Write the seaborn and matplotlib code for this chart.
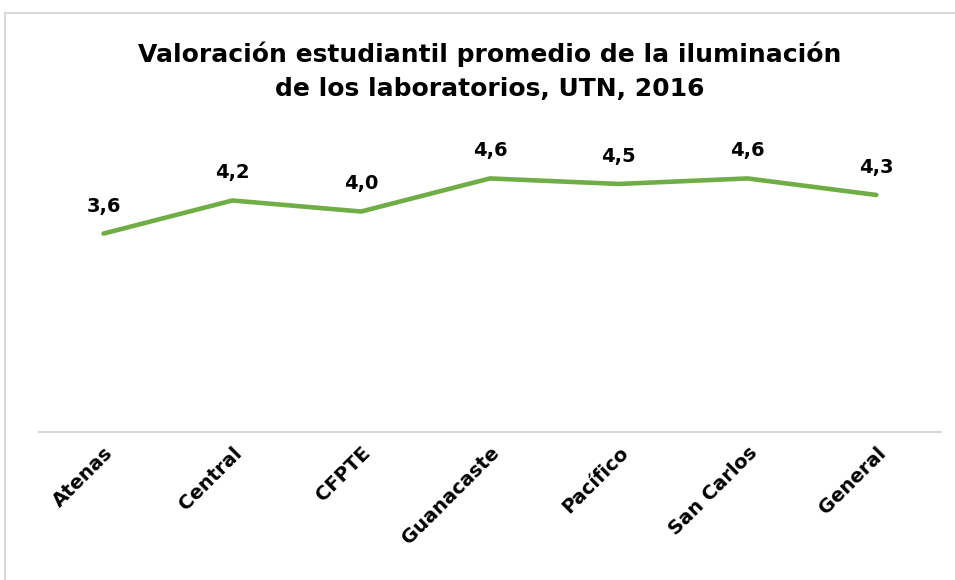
import pandas as pd
import matplotlib.pyplot as plt
import seaborn as sns

sedes = ['Atenas', 'Central', 'CFPTE', 'Guanacaste', 'Pacífico', 'San Carlos', 'General']
promedio = [3.6, 4.2, 4.0, 4.6, 4.5, 4.6, 4.3]

df = pd.DataFrame({'sede': sedes, 'promedio': promedio})

sns.set_style('white')
plt.rcParams['font.family'] = ['DejaVu Sans']
plt.rcParams['text.color'] = 'black'
plt.rcParams['xtick.color'] = 'black'

fig = plt.figure(figsize=(9.55, 5.8), dpi=100)
ax = fig.add_axes([0.041, 0.255, 0.944, 0.483])

sns.lineplot(data=df, x='sede', y='promedio', color='#70AD47', linewidth=3.3, ax=ax, sort=False)

# data labels
for i, v in enumerate(promedio):
    ax.annotate(f'{v:.1f}'.replace('.', ','), (i, v), xytext=(0, 13), textcoords='offset points',
                ha='center', va='bottom', fontsize=14, fontweight='bold', color='black')

ax.set_xlim(-0.5, len(sedes) - 0.5)
ax.set_ylim(0, 5.08)
ax.set_yticks([])
ax.set_xlabel('')
ax.set_ylabel('')
for s in ['top', 'right', 'left']:
    ax.spines[s].set_visible(False)
ax.spines['bottom'].set_color('#D9D9D9')
ax.spines['bottom'].set_linewidth(1.5)

ax.set_xticks(range(len(sedes)))
ax.set_xticklabels(sedes, rotation=45, ha='right', rotation_mode='anchor',
                   fontsize=14, fontweight='bold', color='black')
ax.tick_params(axis='x', length=0, pad=8)

fig.text(0.513, 0.928, 'Valoración estudiantil promedio de la iluminación\nde los laboratorios, UTN, 2016',
         ha='center', va='top', fontsize=18, fontweight='bold', linespacing=1.5, color='black')

# outer frame
fig.patches.append(plt.Rectangle((0.005, -0.05), 1.1, 1.028, transform=fig.transFigure,
                                 fill=False, edgecolor='#D9D9D9', linewidth=1.5))

fig.savefig('out.png', dpi=100)
